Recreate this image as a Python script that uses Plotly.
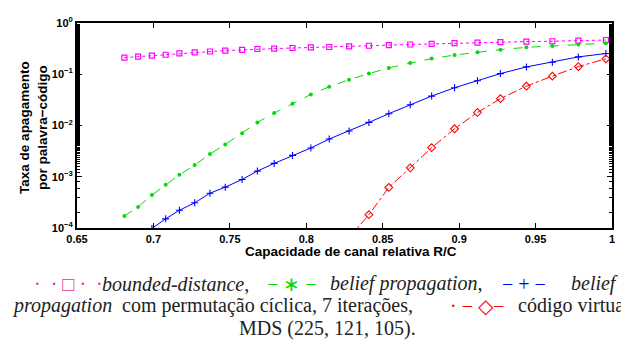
import plotly.graph_objects as go

# Relative channel capacity R/C (shared grid)
rc = [0.681, 0.690, 0.699, 0.708, 0.717, 0.727, 0.737, 0.747, 0.758, 0.768,
      0.779, 0.791, 0.803, 0.815, 0.828, 0.841, 0.854, 0.868, 0.882, 0.897,
      0.912, 0.927, 0.944, 0.961, 0.978, 0.996]

bounded = [0.211, 0.220, 0.230, 0.240, 0.255, 0.266, 0.278, 0.290, 0.298, 0.311,
           0.316, 0.325, 0.335, 0.340, 0.349, 0.360, 0.370, 0.381, 0.392, 0.404,
           0.415, 0.422, 0.434, 0.440, 0.453, 0.466]

bp = [1.72e-4, 2.58e-4, 4.38e-4, 6.95e-4, 1.09e-3, 1.69e-3, 2.77e-3, 4.27e-3, 7.05e-3, 1.15e-2,
      1.75e-2, 2.66e-2, 4.04e-2, 5.70e-2, 7.82e-2, 0.103, 0.133, 0.165, 0.202, 0.237,
      0.270, 0.302, 0.335, 0.355, 0.381, 0.404]

rc_perm = rc[2:]
bp_perm = [9.8e-5, 1.51e-4, 2.22e-4, 3.10e-4, 4.78e-4, 6.27e-4, 8.85e-4, 1.29e-3, 1.82e-3, 2.61e-3,
           3.64e-3, 5.44e-3, 7.82e-3, 1.15e-2, 1.70e-2, 2.54e-2, 3.75e-2, 5.46e-2, 7.48e-2, 0.103,
           0.139, 0.172, 0.218, 0.254]

rc_mds = rc[14:]
mds = [6.5e-5, 1.82e-4, 6.19e-4, 1.49e-3, 3.69e-3, 8.63e-3, 1.80e-2, 3.34e-2, 5.85e-2, 9.18e-2,
       0.141, 0.200]

x_ticks = [0.65, 0.7, 0.75, 0.8, 0.85, 0.9, 0.95, 1]
x_ticktext = ["<b>0.65</b>", "<b>0.7</b>", "<b>0.75</b>", "<b>0.8</b>", "<b>0.85</b>",
              "<b>0.9</b>", "<b>0.95</b>", "<b>1</b>"]
y_ticks = [1e-4, 1e-3, 1e-2, 1e-1, 1]
y_ticktext = ["<b>10<sup>−4</sup></b>", "<b>10<sup>−3</sup></b>", "<b>10<sup>−2</sup></b>",
              "<b>10<sup>−1</sup></b>", "<b>10<sup>0</sup></b>"]

x_title = "<b>Capacidade de canal relativa R/C</b>"
y_title = "<b>Taxa de apagamento<br>por palavra−código</b>"

fig = go.Figure()
fig.add_trace(go.Scatter(x=rc, y=bounded, mode="lines+markers",
                         line=dict(color="#ff00ff", width=1, dash="dot"),
                         marker=dict(symbol="square-open", size=5, color="#ff00ff", line=dict(width=1.2))))
fig.add_trace(go.Scatter(x=rc, y=bp, mode="lines+markers",
                         line=dict(color="#00dd00", width=1, dash="dash"),
                         marker=dict(symbol="circle", size=4, color="#00dd00")))
fig.add_trace(go.Scatter(x=rc_perm, y=bp_perm, mode="lines+markers",
                         line=dict(color="#0000ff", width=1),
                         marker=dict(symbol="cross-thin", size=5, color="#0000ff", line=dict(width=1.1, color="#0000ff"))))
fig.add_trace(go.Scatter(x=rc_mds, y=mds, mode="lines+markers",
                         line=dict(color="#ff0000", width=1, dash="dashdot"),
                         marker=dict(symbol="diamond-open", size=6, color="#ff0000", line=dict(width=1.1))))

axis_font = dict(family="Liberation Sans", size=11, color="black")

fig.update_xaxes(type="linear", range=[0.65, 1], tickvals=x_ticks, ticktext=x_ticktext,
                 ticks="inside", ticklen=5, tickwidth=1, tickcolor="black",
                 showline=True, linecolor="black", linewidth=2, mirror="ticks",
                 showgrid=False, zeroline=False, tickfont=axis_font)
fig.update_yaxes(type="log", range=[-4, 0], tickvals=y_ticks, ticktext=y_ticktext,
                 ticks="inside", ticklen=5, tickwidth=1, tickcolor="black",
                 minor=dict(ticks="inside", ticklen=3, tickcolor="black", showgrid=False),
                 showline=True, linecolor="black", linewidth=2, mirror="ticks",
                 showgrid=False, zeroline=False, tickfont=axis_font)

# page-pixel helpers relative to the plot area (page x 77..612, y 15..228)
def px2x(px):
    return (px - 77) / 535.0
def py2y(py):
    return (228 - py) / 213.0

title_font = dict(family="Liberation Sans", size=13.5, color="black")
fig.add_annotation(text=x_title, xref="paper", yref="paper", x=px2x(351), y=py2y(252),
                   xanchor="center", yanchor="middle", showarrow=False, font=title_font)
fig.add_annotation(text=y_title, xref="paper", yref="paper", x=px2x(34), y=py2y(124),
                   xanchor="center", yanchor="middle", textangle=-90, showarrow=False, font=title_font)

cap_font = dict(family="Liberation Serif", size=20, color="#222222")
sym_font = dict(family="Liberation Serif", size=20)

caption = [
    # (text, left px, center y px)
    ('<span style="color:#e6339a">·  · □ ·  ·</span>', 32, 286),
    ('<i>bounded-distance</i>,', 100, 286),
    ('<span style="color:#00dd00">− ∗ −</span>', 265, 286),
    ('<i>belief propagation</i>,', 328, 286),
    ('<span style="color:#0000ff">− + −</span>', 500, 286),
    ('<i>belief</i>', 569, 286),
    ('<i>propagation</i>', 10, 309),
    ('com permutação cíclica, 7 iterações,', 120, 309),
    ('<span style="color:#ff0000">· − ◇−</span>', 448, 309),
    ('código virtual', 516, 309),
]
for txt, lx, cy in caption:
    fig.add_annotation(text=txt, xref="paper", yref="paper", x=px2x(lx), y=py2y(cy),
                       xanchor="left", yanchor="middle", showarrow=False, font=cap_font)
fig.add_annotation(text="MDS (225, 121, 105).", xref="paper", yref="paper", x=px2x(327), y=py2y(332),
                   xanchor="center", yanchor="middle", showarrow=False, font=cap_font)

# page body has an 8px margin, so figure margins are shifted accordingly
fig.update_layout(width=629, height=344, margin=dict(l=69, r=25, t=7, b=124),
                  plot_bgcolor="white", paper_bgcolor="white", showlegend=False)

fig.write_html("out.html")
